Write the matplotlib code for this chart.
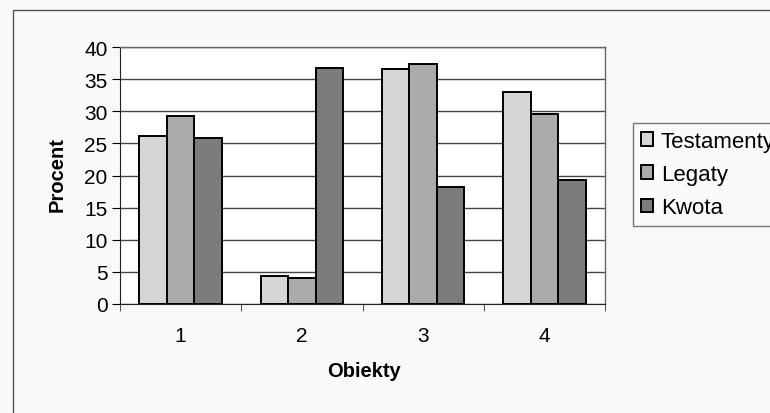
import numpy as np
import matplotlib
matplotlib.use("Agg")
import matplotlib.pyplot as plt
from matplotlib.patches import Rectangle

plt.rcParams['font.family'] = ['Liberation Sans', 'DejaVu Sans']

# data
obiekty = ['1', '2', '3', '4']
testamenty = [26.2, 4.4, 36.5, 33.0]
legaty = [29.2, 4.1, 37.4, 29.5]
kwota = [25.8, 36.8, 18.2, 19.3]

series = [('Testamenty', testamenty, '#d6d6d6'),
          ('Legaty', legaty, '#ababab'),
          ('Kwota', kwota, '#7c7c7c')]

W, H = 770, 414
fig = plt.figure(figsize=(W / 100, H / 100), dpi=100)
fig.patch.set_facecolor('#f9f9f9')

# outer chart frame (runs off the right and bottom)
fig.add_artist(Rectangle((13 / W, -0.1), 1.2, 1.1 - 11 / H, transform=fig.transFigure,
                         fill=False, edgecolor='#555555', linewidth=1.0))

ax = fig.add_axes([120 / W, (H - 305) / H, (605 - 120) / W, (305 - 48) / H])
ax.set_facecolor('white')

x = np.arange(len(obiekty))
bw = 0.227
for i, (name, vals, col) in enumerate(series):
    ax.bar(x + (i - 1) * bw, vals, bw, color=col, edgecolor='black',
           linewidth=1.4, label=name, zorder=3)

ax.set_xlim(-0.5, 3.5)
ax.set_ylim(0, 40)
ax.set_yticks(np.arange(0, 41, 5))
ax.set_xticks(x)
ax.set_xticklabels(obiekty)
ax.set_xticks(np.arange(-0.5, 3.6, 1), minor=True)
ax.tick_params(axis='x', which='major', length=0, pad=16, labelsize=15)
ax.tick_params(axis='x', which='minor', length=5, direction='out', color='#333333')
ax.tick_params(axis='y', length=6, direction='out', labelsize=15, pad=3)
ax.grid(axis='y', color='#444444', linewidth=1.0, zorder=0)

for s in ['top', 'right']:
    ax.spines[s].set_color('#666666')
    ax.spines[s].set_linewidth(1.0)
ax.spines['left'].set_color('#222222')
ax.spines['bottom'].set_color('#222222')

fig.text(57 / W, 1 - 175 / H, 'Procent', rotation=90, ha='center', va='center',
         fontsize=14.5, fontweight='bold')
fig.text(364 / W, 1 - 372 / H, 'Obiekty', ha='center', va='center',
         fontsize=14.5, fontweight='bold')

leg = ax.legend(loc='upper left', bbox_to_anchor=(633 / W, 1 - 124 / H),
                bbox_transform=fig.transFigure, fontsize=16, frameon=True,
                fancybox=False, handlelength=0.55, handleheight=0.55,
                handletextpad=0.35, labelspacing=0.55, borderpad=0.35,
                borderaxespad=0)
leg.get_frame().set_edgecolor('#555555')
leg.get_frame().set_linewidth(1.0)
leg.get_frame().set_facecolor('#fbfbfb')

fig.savefig('out.png', dpi=100, facecolor=fig.get_facecolor())
